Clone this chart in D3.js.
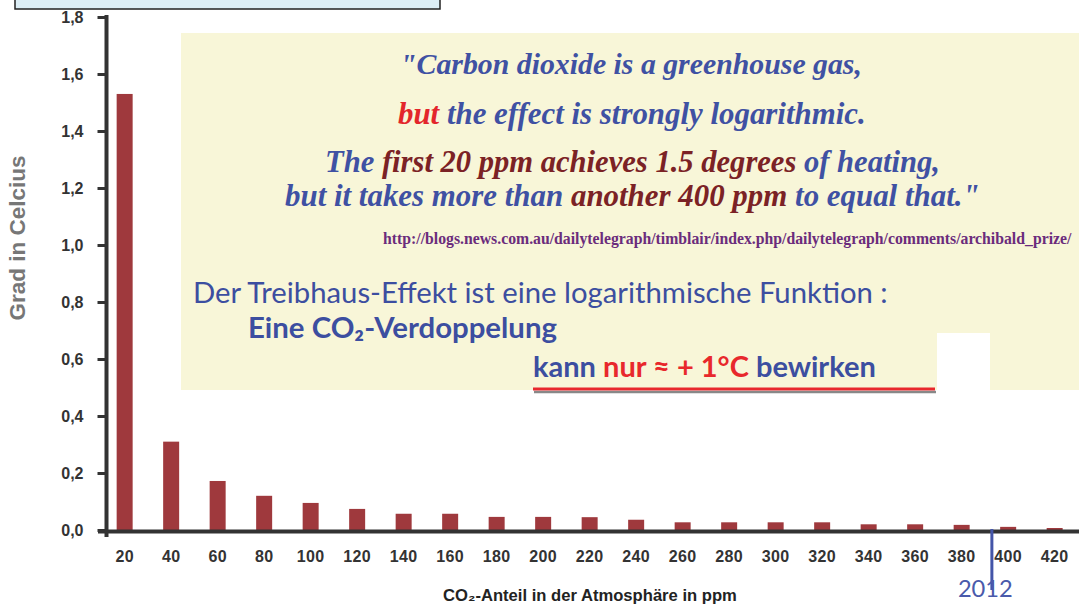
<!DOCTYPE html>
<html>
<head>
<meta charset="utf-8">
<script src="https://cdn.jsdelivr.net/npm/d3@7"></script>
<style>
  body { margin: 0; background: #fff; }
  svg { display: block; }
</style>
</head>
<body>
<svg id="chart" width="1079" height="605"></svg>
<script>
// values
var ppm = [20, 40, 60, 80, 100, 120, 140, 160, 180, 200, 220, 240, 260, 280, 300, 320, 340, 360, 380, 400, 420];
var degrees = [1.53, 0.31, 0.172, 0.12, 0.095, 0.074, 0.057, 0.057, 0.046, 0.046, 0.045, 0.036, 0.027, 0.027, 0.027, 0.027, 0.02, 0.02, 0.018, 0.011, 0.007];
var yTicks = [0, 0.2, 0.4, 0.6, 0.8, 1.0, 1.2, 1.4, 1.6, 1.8];
var marker = { ppm: 393, label: "2012" };

var svg = d3.select('#chart');

var x = d3.scaleBand()
  .domain(ppm)
  .range([101.4, 101.4 + 21 * 46.5])
  .paddingInner(0.656)
  .paddingOuter(0.328);

var y = d3.scaleLinear()
  .domain([0, 1.8])
  .range([530, 17]);

// fit a text element to a wanted width by scaling its font size
function fit(sel, w) {
  var cur = sel.node().getComputedTextLength();
  var fs = parseFloat(sel.style('font-size'));
  sel.style('font-size', (fs * w / cur) + 'px');
}

// top-left box (cut off)
svg.append('rect')
  .attr('x', 15).attr('y', -20)
  .attr('width', 425).attr('height', 29)
  .attr('fill', '#dceef6')
  .attr('stroke', '#222')
  .attr('stroke-width', 1.5);

// yellow note panel
svg.append('rect')
  .attr('x', 181).attr('y', 33)
  .attr('width', 898).attr('height', 357)
  .attr('fill', '#f8f6d8');
svg.append('rect')
  .attr('x', 937).attr('y', 333)
  .attr('width', 53).attr('height', 58)
  .attr('fill', '#fff');

// bars
svg.selectAll('rect.bar')
  .data(ppm)
  .enter().append('rect')
  .attr('class', 'bar')
  .attr('x', function(d) { return x(d); })
  .attr('width', x.bandwidth())
  .attr('y', function(d, i) { return y(degrees[i]); })
  .attr('height', function(d, i) { return y(0) - y(degrees[i]); })
  .attr('fill', '#9f393d');

// y axis
var yAxis = d3.axisLeft(y)
  .tickValues(yTicks)
  .tickSize(9)
  .tickPadding(14)
  .tickFormat(function(d) { return d3.format('.1f')(d).replace('.', ','); });

var gy = svg.append('g')
  .attr('transform', 'translate(106.5,0)')
  .call(yAxis);
gy.select('.domain').remove();
gy.selectAll('.tick line').attr('stroke', '#333').attr('stroke-width', 3);
gy.selectAll('.tick text')
  .attr('fill', '#333')
  .style('font-family', 'Liberation Sans, Arial, sans-serif')
  .style('font-size', '16px')
  .style('font-weight', 'bold');
gy.append('line')
  .attr('x1', 0).attr('x2', 0)
  .attr('y1', 15).attr('y2', 537)
  .attr('stroke', '#333').attr('stroke-width', 4);

// x axis
var xAxis = d3.axisBottom(x).tickSize(0).tickPadding(20.5);
var gx = svg.append('g')
  .attr('transform', 'translate(0,530)')
  .call(xAxis);
gx.select('.domain').remove();
gx.selectAll('.tick text')
  .attr('fill', '#333')
  .style('font-family', 'Liberation Sans, Arial, sans-serif')
  .style('font-size', '16px')
  .style('letter-spacing', '0.3px')
  .style('font-weight', 'bold');
gx.append('line')
  .attr('x1', 98).attr('x2', 1079)
  .attr('y1', 1.5).attr('y2', 1.5)
  .attr('stroke', '#333').attr('stroke-width', 4);

// axis titles
var yt = svg.append('text')
  .attr('transform', 'translate(25,238) rotate(-90)')
  .attr('text-anchor', 'middle')
  .attr('fill', '#777')
  .style('font-family', 'Liberation Sans, Arial, sans-serif')
  .style('font-size', '18px')
  .style('font-weight', 'bold')
  .text('Grad in Celcius');
fit(yt, 165);

var xt = svg.append('text')
  .attr('x', 590).attr('y', 601)
  .attr('text-anchor', 'middle')
  .attr('fill', '#222')
  .style('font-family', 'Liberation Sans, Arial, sans-serif')
  .style('font-size', '14px')
  .style('font-weight', 'bold')
  .text('CO₂-Anteil in der Atmosphäre in ppm');
fit(xt, 294);

// 2012 marker
var mIdx = d3.bisectLeft(ppm, marker.ppm);
var x0 = x(ppm[mIdx - 1]) + x.bandwidth() / 2;
var x1 = x(ppm[mIdx]) + x.bandwidth() / 2;
var mx = x0 + (x1 - x0) * (marker.ppm - ppm[mIdx - 1]) / (ppm[mIdx] - ppm[mIdx - 1]);
svg.append('line')
  .attr('x1', mx).attr('x2', mx)
  .attr('y1', 529).attr('y2', 590)
  .attr('stroke', '#4455a8').attr('stroke-width', 3);
var mt = svg.append('text')
  .attr('x', mx - 34).attr('y', 597)
  .attr('fill', '#4a5aab')
  .style('font-family', 'Lato, Open Sans, sans-serif')
  .style('font-size', '24px')
  .text(marker.label);
fit(mt, 55);

// quote lines: [x, baseline, width, segments]
var blue = '#3f51a3', dred = '#7b2225', red = '#e3262b';
var quote = [
  [400, 74, 462, [['"Carbon dioxide is a greenhouse gas,', blue]]],
  [398, 124, 468, [['but', red], [' the effect is strongly logarithmic.', blue]]],
  [325, 172, 615, [['The ', blue], ['first 20 ppm achieves 1.5 degrees', dred], [' of heating,', blue]]],
  [285, 206, 695, [['but it takes more than ', blue], ['another 400 ppm', dred], [' to equal that."', blue]]]
];
quote.forEach(function(q) {
  var t = svg.append('text')
    .attr('x', q[0]).attr('y', q[1])
    .style('font-family', 'Liberation Serif, Times New Roman, serif')
    .style('font-style', 'italic')
    .style('font-weight', 'bold')
    .style('font-size', '26px');
  q[3].forEach(function(s) {
    t.append('tspan').attr('fill', s[1]).text(s[0]);
  });
  fit(t, q[2]);
});

var url = svg.append('text')
  .attr('x', 383).attr('y', 244)
  .attr('fill', '#6b2c7c')
  .style('font-family', 'Liberation Serif, Times New Roman, serif')
  .style('font-weight', 'bold')
  .style('font-size', '12px')
  .text('http://blogs.news.com.au/dailytelegraph/timblair/index.php/dailytelegraph/comments/archibald_prize/');
fit(url, 689);

// German lines
var gblue = '#3c4ea0', gred = '#e8282c';
var german = [
  [193, 303, 695, 'normal', [['Der Treibhaus-Effekt ist eine logarithmische Funktion :', gblue]]],
  [248, 338, 309, 'bold', [['Eine CO₂-Verdoppelung', gblue]]],
  [533, 377, 343, 'bold', [['kann ', gblue], ['nur ≈ + 1°C', gred], [' bewirken', gblue]]]
];
german.forEach(function(g) {
  var t = svg.append('text')
    .attr('x', g[0]).attr('y', g[1])
    .style('font-family', 'Lato, Open Sans, sans-serif')
    .style('font-weight', g[3])
    .style('font-size', '24px');
  g[4].forEach(function(s) {
    t.append('tspan').attr('fill', s[1]).text(s[0]);
  });
  fit(t, g[2]);
});

// red underline with shadow
svg.append('line')
  .attr('x1', 534).attr('x2', 936)
  .attr('y1', 392).attr('y2', 392)
  .attr('stroke', '#888').attr('stroke-width', 2.5);
svg.append('line')
  .attr('x1', 533).attr('x2', 935)
  .attr('y1', 389).attr('y2', 389)
  .attr('stroke', '#e8282c').attr('stroke-width', 3);
</script>
</body>
</html>
